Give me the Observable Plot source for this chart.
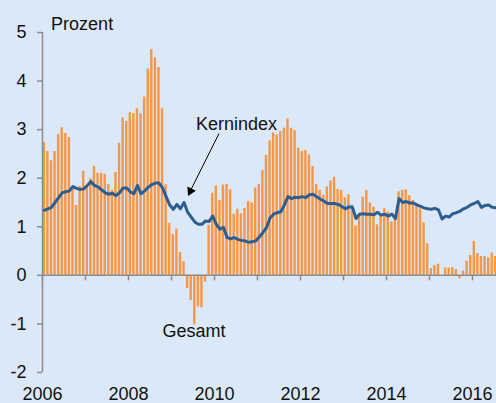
<!DOCTYPE html>
<html>
<head>
<meta charset="utf-8">
<script src="https://cdn.jsdelivr.net/npm/d3@7"></script>
<script src="https://cdn.jsdelivr.net/npm/@observablehq/plot@0.6"></script>
<style>
  html, body { margin: 0; padding: 0; background: #dbe8f7; }
  #chart svg { display: block; }
</style>
</head>
<body>
<div id="chart"></div>
<script>
// ---- data (monthly, starting January 2006) ----
const startYear = 2006;

// Gesamt (headline inflation), % yoy
const gesamt = [
  2.74, 2.55, 2.36, 2.55, 2.90, 3.04, 2.92, 2.84, 1.78, 1.44, 1.83, 2.14,   // 2006
  1.85, 1.99, 2.24, 2.10, 2.10, 2.08, 1.87, 1.75, 2.12, 2.72, 3.24, 3.17,   // 2007
  3.35, 3.33, 3.43, 3.33, 3.67, 4.25, 4.65, 4.48, 4.28, 3.43, 1.87, 1.07,   // 2008
  0.84, 0.95, 0.47, 0.28, -0.27, -0.52, -1.02, -0.65, -0.67, -0.14, 1.03, 1.69, // 2009
  1.84, 1.54, 1.86, 1.87, 1.76, 1.26, 1.36, 1.27, 1.38, 1.52, 1.49, 1.80,   // 2010
  1.87, 2.16, 2.47, 2.77, 2.93, 2.89, 2.96, 3.03, 3.22, 3.03, 2.98, 2.62,   // 2011
  2.55, 2.57, 2.48, 2.24, 1.87, 1.75, 1.65, 1.82, 1.94, 2.02, 1.77, 1.75,   // 2012
  1.60, 1.66, 1.45, 1.02, 1.25, 1.61, 1.75, 1.49, 1.40, 1.04, 1.23, 1.37,   // 2013
  1.30, 1.10, 1.16, 1.72, 1.75, 1.76, 1.64, 1.54, 1.43, 1.37, 1.08, 0.65,   // 2014
  0.14, 0.20, 0.23, 0.00, 0.15, 0.15, 0.16, 0.12, -0.07, 0.09, 0.29, 0.41,  // 2015
  0.70, 0.45, 0.39, 0.39, 0.36, 0.46, 0.39                                  // 2016
];

// Kernindex (core inflation), % yoy
const kernindex = [
  1.34, 1.37, 1.40, 1.50, 1.60, 1.70, 1.72, 1.74, 1.83, 1.79, 1.77, 1.78,   // 2006
  1.85, 1.93, 1.85, 1.82, 1.76, 1.70, 1.67, 1.69, 1.64, 1.70, 1.80, 1.80,   // 2007
  1.72, 1.68, 1.85, 1.68, 1.74, 1.81, 1.87, 1.90, 1.90, 1.80, 1.62, 1.45,   // 2008
  1.36, 1.46, 1.37, 1.50, 1.30, 1.20, 1.10, 1.05, 1.05, 1.12, 1.11, 1.22,   // 2009
  1.05, 0.95, 0.99, 0.78, 0.75, 0.78, 0.74, 0.72, 0.71, 0.68, 0.69, 0.71,   // 2010
  0.79, 0.88, 0.98, 1.18, 1.26, 1.29, 1.31, 1.45, 1.62, 1.58, 1.61, 1.60,   // 2011
  1.62, 1.60, 1.66, 1.67, 1.62, 1.57, 1.53, 1.48, 1.48, 1.48, 1.46, 1.42,   // 2012
  1.37, 1.41, 1.40, 1.17, 1.26, 1.27, 1.26, 1.26, 1.25, 1.30, 1.24, 1.26,   // 2013
  1.22, 1.26, 1.17, 1.58, 1.50, 1.52, 1.49, 1.49, 1.45, 1.42, 1.39, 1.37,   // 2014
  1.36, 1.38, 1.35, 1.16, 1.22, 1.20, 1.27, 1.29, 1.32, 1.37, 1.40, 1.45,   // 2015
  1.48, 1.52, 1.40, 1.44, 1.45, 1.40, 1.39                                  // 2016
];

const yTicks = [-2, -1, 0, 1, 2, 3, 4, 5];
const yearTicks = [2006, 2007, 2008, 2009, 2010, 2011, 2012, 2013, 2014, 2015, 2016];
const yearLabels = [2006, 2008, 2010, 2012, 2014, 2016];

// annotations (data coordinates)
const notes = [
  {label: "Prozent",   x: 2006.20, y: 5.16},
  {label: "Kernindex", x: 2009.57, y: 3.115},
  {label: "Gesamt",    x: 2008.79, y: -1.153}
];
const arrow = [{x1: 2010.105, y1: 2.92, x2: 2009.40, y2: 1.67, tx: 2009.384, ty: 1.635}];

// ---- build table ----
const rows = gesamt.map((g, i) => ({
  t0: startYear + i / 12,
  t1: startYear + (i + 1) / 12,
  tm: startYear + (i + 0.5) / 12,
  g,
  k: kernindex[i]
}));

const axisGrey = "#8c8c8c";
const barOrange = "#f79646";
const lineBlue = "#2e5d90";
const tickSymbol = { draw(ctx) { ctx.moveTo(0, 0); ctx.lineTo(0, 5); } };

const chart = Plot.plot({
  width: 496,
  height: 403,
  marginLeft: 42,
  marginRight: 0,
  marginTop: 32,
  marginBottom: 31,
  style: {
    background: "#dbe8f7",
    fontFamily: "'Liberation Sans', Arial, sans-serif",
    fontSize: "18px",
    color: "#111"
  },
  x: { type: "linear", domain: [2006, 2006 + 454 / 43] },
  y: { domain: [-2, 5] },
  marks: [
    Plot.rectY(rows, { x1: "t0", x2: "t1", y1: 0, y2: "g", fill: barOrange, insetLeft: 0.6, insetRight: 0.6, clip: true }),
    Plot.ruleY([0], { stroke: axisGrey, strokeWidth: 1.5 }),
    Plot.ruleX([2006], { y1: -2, y2: 5, stroke: axisGrey, strokeWidth: 1.5 }),
    Plot.dot(yearTicks, { x: d => d, y: 0, symbol: tickSymbol, stroke: axisGrey, fill: "none", strokeWidth: 1.5 }),
    Plot.axisY(yTicks, { tickSize: 5, tickPadding: 11, stroke: axisGrey, strokeWidth: 1.5, tickFormat: d => String(d), fontSize: 18 }),
    Plot.axisX(yearLabels, { tickSize: 0, tickPadding: 15, tickFormat: d => String(d), fontSize: 18 }),
    Plot.line(rows, { x: "tm", y: "k", stroke: lineBlue, strokeWidth: 3, strokeLinejoin: "round", clip: true }),
    Plot.link(arrow, { x1: "x1", y1: "y1", x2: "x2", y2: "y2", stroke: "#000", strokeWidth: 1 }),
    Plot.dot(arrow, { x: "tx", y: "ty", symbol: "triangle", r: 3.5, fill: "#000", stroke: "none", rotate: 206, dx: 2.4, dy: -4.9 }),
    Plot.text(notes, { x: "x", y: "y", text: "label", textAnchor: "start", lineAnchor: "middle", fontSize: 18, fill: "#111" })
  ]
});

document.getElementById("chart").appendChild(chart);
</script>
</body>
</html>
